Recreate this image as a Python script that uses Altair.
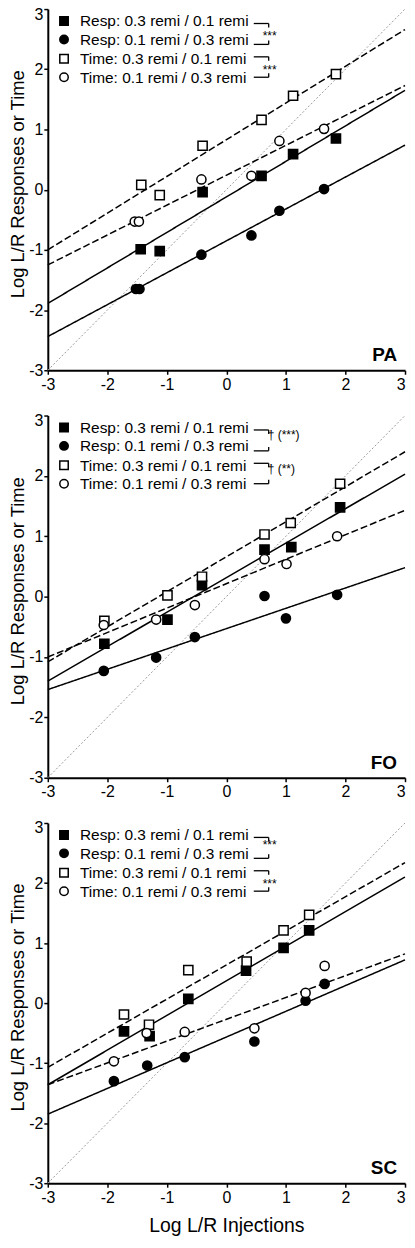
import altair as alt
import pandas as pd

# ---------------- data ----------------
series_names = ["Resp: 0.3 remi / 0.1 remi", "Resp: 0.1 remi / 0.3 remi",
                "Time: 0.3 remi / 0.1 remi", "Time: 0.1 remi / 0.3 remi"]
series_shapes = ["square", "circle", "square", "circle"]
series_fills = ["black", "black", "white", "white"]

tick_values = [-3, -2, -1, 0, 1, 2, 3]
identity_x = [-3, 3]
fit_x = [-3, 3]

# PA
pa_resp_hi_x = [-1.44, -1.12, -0.40, 0.59, 1.12, 1.84]
pa_resp_hi_y = [-0.99, -1.02, -0.04, 0.23, 0.59, 0.85]
pa_resp_lo_x = [-1.52, -1.46, -0.42, 0.42, 0.89, 1.64]
pa_resp_lo_y = [-1.65, -1.65, -1.08, -0.76, -0.35, 0.01]
pa_time_hi_x = [-1.43, -1.12, -0.40, 0.59, 1.12, 1.84]
pa_time_hi_y = [0.08, -0.09, 0.73, 1.16, 1.56, 1.92]
pa_time_lo_x = [-1.54, -1.47, -0.42, 0.42, 0.89, 1.64]
pa_time_lo_y = [-0.53, -0.53, 0.17, 0.23, 0.81, 1.01]
pa_fit_y = [[-1.89, 1.65], [-2.44, 0.74], [-1.00, 2.66], [-1.25, 1.73]]
pa_stats = ["***", "***"]

# FO
fo_resp_hi_x = [-2.05, -0.99, -0.41, 0.64, 1.09, 1.91]
fo_resp_hi_y = [-0.78, -0.38, 0.19, 0.78, 0.82, 1.48]
fo_resp_lo_x = [-2.06, -1.18, -0.53, 0.64, 1.00, 1.86]
fo_resp_lo_y = [-1.23, -1.01, -0.67, 0.01, -0.36, 0.03]
fo_time_hi_x = [-2.05, -0.99, -0.41, 0.64, 1.08, 1.91]
fo_time_hi_y = [-0.40, 0.02, 0.33, 1.03, 1.22, 1.87]
fo_time_lo_x = [-2.06, -1.18, -0.53, 0.64, 1.01, 1.86]
fo_time_lo_y = [-0.47, -0.38, -0.14, 0.62, 0.54, 1.00]
fo_fit_y = [[-1.40, 2.03], [-1.54, 0.48], [-1.08, 2.40], [-1.00, 1.43]]
fo_stats = ["\u2020 (***)", "\u2020 (**)"]

# SC
sc_resp_hi_x = [-1.72, -1.29, -0.64, 0.33, 0.96, 1.39]
sc_resp_hi_y = [-0.47, -0.55, 0.07, 0.54, 0.92, 1.21]
sc_resp_lo_x = [-1.89, -1.33, -0.70, 0.47, 1.33, 1.65]
sc_resp_lo_y = [-1.30, -1.04, -0.90, -0.64, 0.04, 0.32]
sc_time_hi_x = [-1.72, -1.30, -0.64, 0.34, 0.96, 1.39]
sc_time_hi_y = [-0.19, -0.36, 0.55, 0.69, 1.21, 1.47]
sc_time_lo_x = [-1.89, -1.34, -0.70, 0.47, 1.33, 1.65]
sc_time_lo_y = [-0.97, -0.50, -0.48, -0.42, 0.17, 0.62]
sc_fit_y = [[-1.36, 2.10], [-1.85, 0.72], [-1.07, 2.34], [-1.36, 0.82]]
sc_stats = ["***", "***"]

FONT = "Liberation Sans"
LEGEND_ROWS = [12, 30.5, 50, 68.5]   # layout (pixels from plot top)


def points_df(xs_list, ys_list):
    rows = []
    for idx in [2, 3, 0, 1]:
        for x, y in zip(xs_list[idx], ys_list[idx]):
            rows.append({"x": x, "y": y, "series": series_names[idx], "order": idx})
    return pd.DataFrame(rows)


def fit_df(fit_y):
    rows = []
    for name, ys in zip(series_names, fit_y):
        for x, y in zip(fit_x, ys):
            rows.append({"x": x, "y": y, "series": name})
    return pd.DataFrame(rows)


one = pd.DataFrame({"k": [0]})


def X(title):
    return alt.X("x:Q", scale=alt.Scale(domain=[-3, 3], nice=False, zero=False),
                 axis=alt.Axis(values=tick_values, title=title, labelExpr="'' + datum.value",
                               labelFlush=False, labelOverlap=False,
                               labelAlign={"condition": {"test": "datum.value == 3",
                                                         "value": "right"},
                                           "value": "center"}))


def Y(h):
    return alt.Y("y:Q", scale=alt.Scale(domain=[-3, 3], nice=False, zero=False),
                 axis=alt.Axis(values=tick_values, title="Log L/R Responses or Time",
                               labelExpr="'' + datum.value", labelFlush=False,
                               labelOverlap=False, titleY=h / 2 - 6,
                               labelOffset={"condition": {"test": "datum.value == 3",
                                                          "value": 5},
                                            "value": 0}))


def rule(x1, x2, y1, y2):
    return alt.Chart(one).mark_rule(color="black", strokeWidth=1.3).encode(
        x=alt.value(x1), x2=alt.value(x2), y=alt.value(y1), y2=alt.value(y2))


def bracket(x1, x2, ytop, ybot):
    return [rule(x1, x2, ytop, ytop), rule(x2, x2, ytop, ytop + 4),
            rule(x1, x2, ybot, ybot), rule(x2, x2, ybot - 4, ybot)]


def legend_layers():
    out = []
    for name, shp, fl, ry in zip(series_names, series_shapes, series_fills, LEGEND_ROWS):
        out.append(alt.Chart(one).mark_point(stroke="black", strokeWidth=1.5, opacity=1,
                                             size=72, filled=False).encode(
            x=alt.value(16.3), y=alt.value(ry), shape=alt.value(shp), fill=alt.value(fl)))
        out.append(alt.Chart(one).mark_text(font=FONT, fontSize=15.5, align="left",
                                            baseline="middle", color="black").encode(
            x=alt.value(32.3), y=alt.value(ry + 0.5), text=alt.value(name)))
    return out


def panel(name, xs, ys, fits, stats, stat_x, stat_y, xtitle, W, H):
    xt = X(xtitle)
    yt = Y(H)
    ident = alt.Chart(pd.DataFrame({"x": identity_x, "y": identity_x})).mark_line(
        color="#999999", strokeWidth=1, strokeDash=[2, 2]).encode(x=xt, y=yt)
    lines = alt.Chart(fit_df(fits)).mark_line(color="black", strokeWidth=1.5).encode(
        x=xt, y=yt, detail="series:N",
        strokeDash=alt.StrokeDash("series:N", scale=alt.Scale(
            domain=series_names, range=[[1, 0], [1, 0], [7, 3], [7, 3]]), legend=None))
    pts = alt.Chart(points_df(xs, ys)).mark_point(
        stroke="black", strokeWidth=1.5, opacity=1, size=85, filled=False).encode(
        x=xt, y=yt,
        shape=alt.Shape("series:N", scale=alt.Scale(domain=series_names, range=series_shapes),
                        legend=None),
        fill=alt.Fill("series:N", scale=alt.Scale(domain=series_names, range=series_fills),
                      legend=None),
        order=alt.Order("order:Q"))
    layers = [ident, lines, pts]
    layers += legend_layers()
    layers += bracket(207, 222, 14.5, 35.5)
    layers += bracket(207, 222, 48, 68.5)
    for s, sy in zip(stats, stat_y):
        layers.append(alt.Chart(one).mark_text(font=FONT, fontSize=12, align="left",
                                               baseline="alphabetic", color="black").encode(
            x=alt.value(stat_x), y=alt.value(sy), text=alt.value(s)))
    layers.append(alt.Chart(one).mark_text(font=FONT, fontSize=19, fontWeight="bold",
                                           align="right", baseline="alphabetic",
                                           color="black").encode(
        x=alt.value(W - 8), y=alt.value(H - 9), text=alt.value(name)))
    return alt.layer(*layers).properties(width=W, height=H)


W = 359
p1 = panel("PA", [pa_resp_hi_x, pa_resp_lo_x, pa_time_hi_x, pa_time_lo_x],
           [pa_resp_hi_y, pa_resp_lo_y, pa_time_hi_y, pa_time_lo_y],
           pa_fit_y, pa_stats, 216, [31.5, 65], None, W, 363)
p2 = panel("FO", [fo_resp_hi_x, fo_resp_lo_x, fo_time_hi_x, fo_time_lo_x],
           [fo_resp_hi_y, fo_resp_lo_y, fo_time_hi_y, fo_time_lo_y],
           fo_fit_y, fo_stats, 221, [24, 57.3], None, W, 364)
p3 = panel("SC", [sc_resp_hi_x, sc_resp_lo_x, sc_time_hi_x, sc_time_lo_x],
           [sc_resp_hi_y, sc_resp_lo_y, sc_time_hi_y, sc_time_lo_y],
           sc_fit_y, sc_stats, 216, [26.5, 65], "Log L/R Injections", W, 362)

chart = alt.vconcat(p1, p2, p3, spacing=20.5).resolve_scale(
    shape="independent", fill="independent", strokeDash="independent"
).properties(
    padding={"left": 0, "top": -5, "right": -1, "bottom": 0}
).configure_view(stroke=None).configure_axis(
    grid=False, domainColor="black", domainWidth=2, tickColor="black", tickWidth=1.5,
    tickSize=4, labelFont=FONT, labelFontSize=16, labelColor="black",
    titleFont=FONT, titleFontWeight="normal", titleColor="black"
).configure_axisY(titleFontSize=18.5, titlePadding=1, labelPadding=1).configure_axisX(
    titleFontSize=19.5, titlePadding=12, labelPadding=2
)

chart.save("out.html", embed_options={"renderer": "svg", "actions": False})
